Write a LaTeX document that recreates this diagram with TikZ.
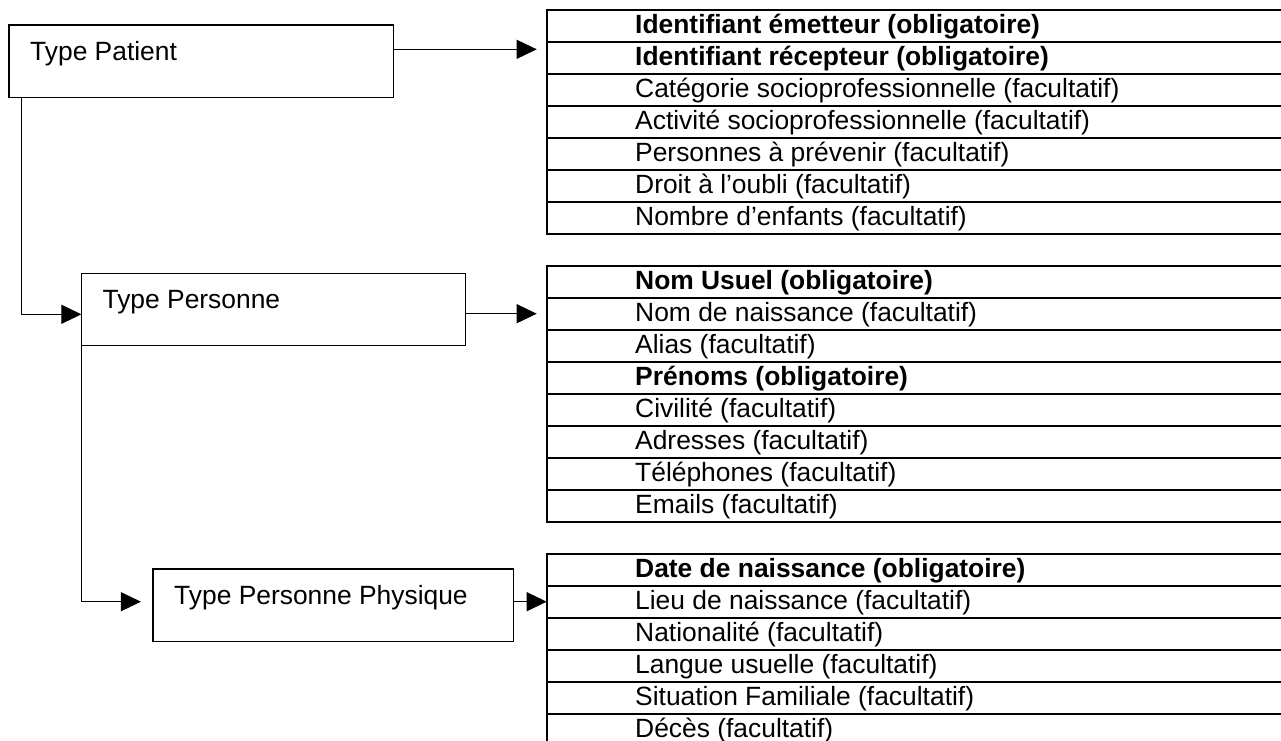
\documentclass[tikz,border=0pt]{standalone}
\usepackage{fontspec}
\setmainfont{Liberation Sans}
\usetikzlibrary{arrows.meta}
\begin{document}
\begin{tikzpicture}[x=1pt,y=-1pt,
  typebox/.style={draw, line width=1.3pt, outer sep=0pt, inner sep=0pt, anchor=north west},
  cell/.style={draw, line width=2pt, outer sep=0pt, inner sep=0pt, anchor=north west,
               minimum width=745pt, minimum height=32pt},
  txt/.style={anchor=base west, inner sep=0pt, font=\fontsize{26.4}{30}\selectfont},
  conn/.style={line width=1pt, -{Triangle[length=20pt,width=19pt]}}]

\useasboundingbox (0,0) rectangle (1281,740);
\clip (0,0) rectangle (1281,740);

% Type boxes
\node[typebox, minimum width=384.3pt, minimum height=72.7pt] (tp)  at (9,25) {};
\node[typebox, minimum width=384pt,   minimum height=72.4pt] (tpe) at (81.4,273.3) {};
\node[typebox, minimum width=360.3pt, minimum height=72.7pt] (tpp) at (152.9,569) {};
\node[txt] (tp-t)  at (30,60)      {Type Patient};
\node[txt] (tpe-t) at (102.4,308.3) {Type Personne};
\node[txt] (tpp-t) at (174,604.3)  {Type Personne Physique};

% Attribute tables
\foreach [count=\i] \t in {
  {\bfseries Identifiant émetteur (obligatoire)},
  {\bfseries Identifiant récepteur (obligatoire)},
  Catégorie socioprofessionnelle (facultatif),
  Activité socioprofessionnelle (facultatif),
  Personnes à prévenir (facultatif),
  Droit à l’oubli (facultatif),
  Nombre d’enfants (facultatif)}{
  \node[cell] (ta-\i) at (546.7,{10+32*(\i-1)}) {};
  \node[txt] (ta-\i-t) at (635,{33+32*(\i-1)}) {\t};
}
\foreach [count=\i] \t in {
  {\bfseries Nom Usuel (obligatoire)},
  Nom de naissance (facultatif),
  Alias (facultatif),
  {\bfseries Prénoms (obligatoire)},
  Civilité (facultatif),
  Adresses (facultatif),
  Téléphones (facultatif),
  Emails (facultatif)}{
  \node[cell] (tb-\i) at (546.7,{266+32*(\i-1)}) {};
  \node[txt] (tb-\i-t) at (635,{289+32*(\i-1)}) {\t};
}
\foreach [count=\i] \t in {
  {\bfseries Date de naissance (obligatoire)},
  Lieu de naissance (facultatif),
  Nationalité (facultatif),
  Langue usuelle (facultatif),
  Situation Familiale (facultatif),
  Décès (facultatif)}{
  \node[cell] (tc-\i) at (546.7,{554+32*(\i-1)}) {};
  \node[txt] (tc-\i-t) at (635,{577+32*(\i-1)}) {\t};
}

% Connector heights and bends
\coordinate (h1) at (0,49.3);
\coordinate (h2) at (0,313.7);
\coordinate (k1) at (21,314.3);
\coordinate (k2) at (0,601.7);

% Connectors
\draw[conn] (tp.east |- h1) -- ([xshift=-10pt]ta-1.west |- h1);
\draw[conn] (tp.south -| k1) |- (tpe.west |- k1);
\draw[conn] (tpe.east |- h2) -- ([xshift=-10pt]tb-1.west |- h2);
\draw[conn] (tpe.south west) |- ([xshift=-12pt]tpp.west |- k2);
\draw[conn] (tpp.east |- k2) -- (tc-1.west |- k2);
\end{tikzpicture}
\end{document}
